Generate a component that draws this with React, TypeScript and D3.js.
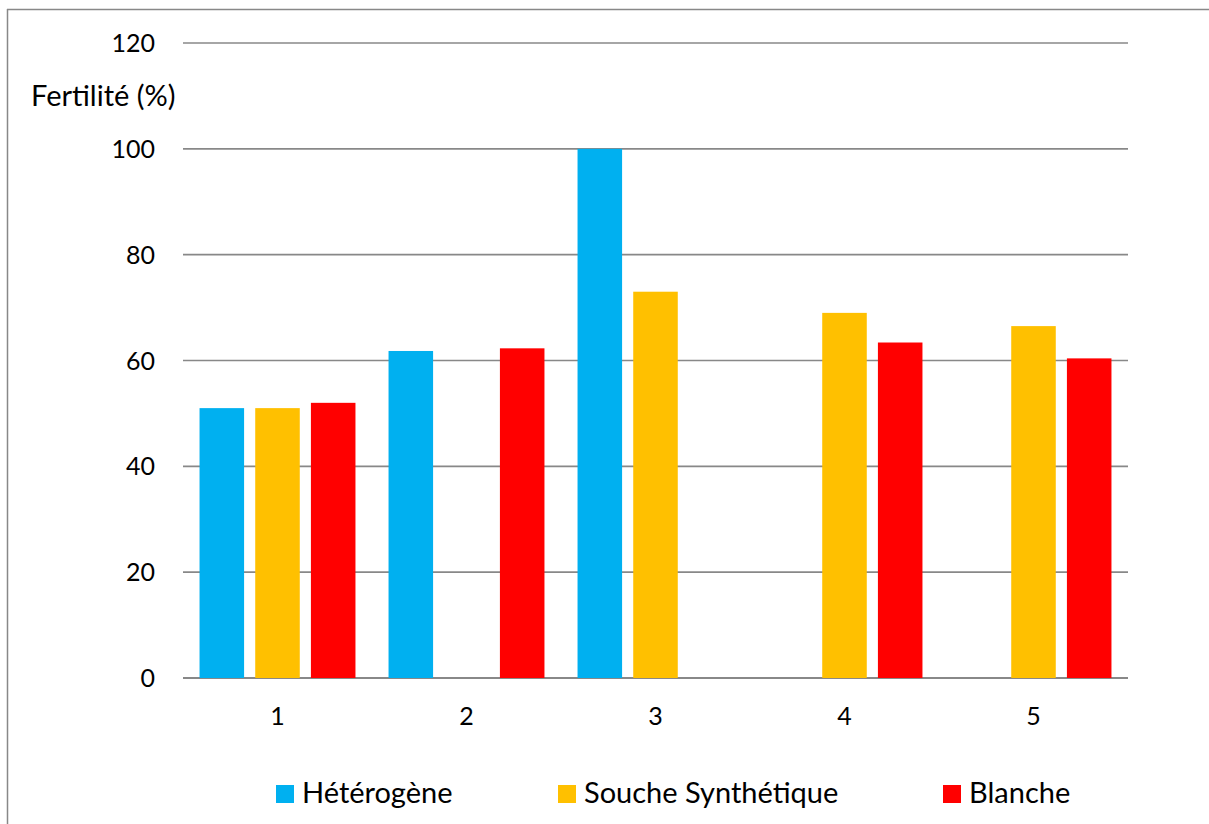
import React from "react";
import * as d3 from "d3";

const categories = ["1", "2", "3", "4", "5"];
const seriesNames = ["Hétérogène", "Souche Synthétique", "Blanche"];
const heterogene = [51, 61.8, 100, null, null];
const soucheSynthetique = [51, null, 73, 69, 66.5];
const blanche = [52, 62.3, null, 63.4, 60.4];
const yTicks = [0, 20, 40, 60, 80, 100, 120];
const colors = ["#00B0F0", "#FFC000", "#FF0000"];
const yLabel = "Fertilité (%)";

const W = 1209;
const H = 824;
const FONT = "Lato, 'Open Sans', sans-serif";

export default function App() {
  const values = [heterogene, soucheSynthetique, blanche];
  const x0 = d3.scaleBand<string>().domain(categories).range([183, 1128]).paddingInner(0.175).paddingOuter(0.0875);
  const x1 = d3.scaleBand<number>().domain([0, 1, 2]).range([0, x0.bandwidth()]).paddingInner(0.2).paddingOuter(0);
  const y = d3.scaleLinear().domain([0, 120]).range([678, 43]);

  const legendX = [276, 558, 943];

  return (
    <svg width={W} height={H} style={{ position: "absolute", left: 0, top: 0, background: "#fff" }} fontFamily={FONT}>
      <rect x={0} y={0} width={W} height={H} fill="#fff" />
      <line x1={7.5} y1={9} x2={7.5} y2={H} stroke="#888" strokeWidth={1.5} />
      <line x1={7} y1={9.5} x2={W} y2={9.5} stroke="#888" strokeWidth={1.5} />
      {yTicks.map((t) => (
        <g key={t}>
          <line x1={183} x2={1128} y1={y(t)} y2={y(t)} stroke="#888" strokeWidth={t === 0 ? 2 : 1.6} />
          <text x={155} y={y(t)} dy="0.36em" textAnchor="end" fontSize={25} fill="#000">
            {t}
          </text>
        </g>
      ))}
      <text x={31} y={106} fontSize={29} fill="#000">
        {yLabel}
      </text>
      {categories.map((c, i) => (
        <g key={c} transform={`translate(${x0(c)},0)`}>
          {values.map((s, k) =>
            s[i] == null ? null : (
              <rect
                key={k}
                x={x1(k)}
                width={x1.bandwidth()}
                y={y(s[i] as number)}
                height={y(0) - y(s[i] as number)}
                fill={colors[k]}
              />
            )
          )}
          <text x={x0.bandwidth() / 2} y={725} textAnchor="middle" fontSize={25} fill="#000">
            {c}
          </text>
        </g>
      ))}
      {seriesNames.map((n, k) => (
        <g key={n} transform={`translate(${legendX[k]},0)`}>
          <rect x={0} y={785} width={18} height={18} fill={colors[k]} />
          <text x={26} y={803} fontSize={29} fill="#000">
            {n}
          </text>
        </g>
      ))}
    </svg>
  );
}
